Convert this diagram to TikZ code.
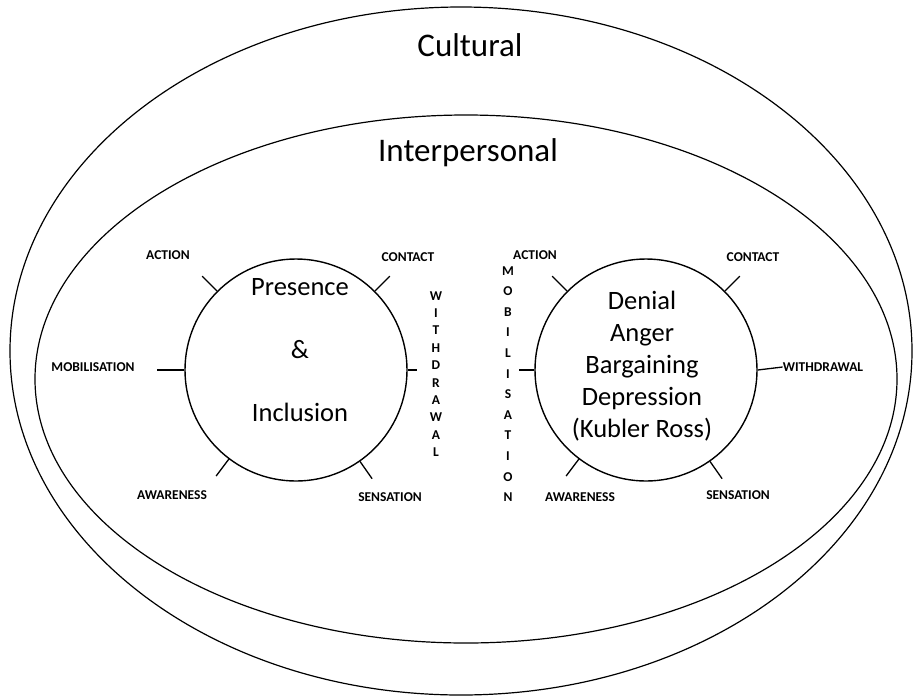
\documentclass[tikz,border=0pt]{standalone}
\usepackage{fontspec}
\setmainfont{Carlito}
\usetikzlibrary{shapes.geometric}
\begin{document}
\begin{tikzpicture}[x=1pt,y=-1pt,
  ring/.style={draw,line width=1.2pt,ellipse,inner sep=0pt},
  wheel/.style={draw,line width=1.4pt,circle,inner sep=0pt,minimum size=222pt},
  tick/.style={line width=1.3pt},
  small/.style={font=\fontsize{13.5}{13.5}\selectfont\bfseries,inner sep=0pt},
  vert/.style={font=\fontsize{13.5}{#1}\selectfont\bfseries,align=center,inner sep=0pt},
  big/.style={font=\fontsize{26.5}{32}\selectfont,align=center,inner sep=0pt},
  huge/.style={font=\fontsize{33}{33}\selectfont,inner sep=0pt}]
\useasboundingbox (0,0) rectangle (913,697);
% rings
\node[ring,minimum width=902pt,minimum height=688pt] (outer) at (461,351) {};
\node[ring,minimum width=862pt,minimum height=528pt] (inner) at (466,379) {};
\node[huge] (cult) at (470,45) {Cultural};
\node[huge] (inter) at (468,153) {Interpersonal};
% left wheel
\node[wheel] (L) at (296,370) {};
\node[big] (pres) at (300,287) {Presence};
\node[big] (amp) at (300,350) {\&};
\node[big] (incl) at (300,412) {Inclusion};
\node[small] (actL) at (168,255) {ACTION};
\node[small] (conL) at (408,257) {CONTACT};
\node[small] (mobL) at (93,367) {MOBILISATION};
\node[small] (awaL) at (172,495) {AWARENESS};
\node[small] (senL) at (390,497) {SENSATION};
\node[vert=17.4] (wdL) at (436,374) {W\\I\\T\\H\\D\\R\\A\\W\\A\\L};
\draw[tick] (L.135) -- ([shift={(135:21pt)}]L.135);
\draw[tick] (L.45) -- ([shift={(45:21pt)}]L.45);
\draw[tick] (L.233) -- ([shift={(233:21pt)}]L.233);
\draw[tick] (L.305) -- ([shift={(305:21pt)}]L.305);
\draw[tick] (L.west) -- ([shift={(180:27pt)}]L.west);
\draw[tick] (L.east) -- ([shift={(0:9pt)}]L.east);
% right wheel
\node[wheel] (R) at (646,370) {};
\node[big] (stages) at (642,366) {Denial\\Anger\\Bargaining\\Depression\\(Kubler Ross)};
\node[small] (actR) at (535,255) {ACTION};
\node[small] (conR) at (753,257) {CONTACT};
\node[small] (wdR) at (823,367) {WITHDRAWAL};
\node[small] (awaR) at (580,497) {AWARENESS};
\node[small] (senR) at (738,495) {SENSATION};
\node[vert=20.6] (mobR) at (508,384) {M\\O\\B\\I\\L\\I\\S\\A\\T\\I\\O\\N};
\draw[tick] (R.135) -- ([shift={(135:21pt)}]R.135);
\draw[tick] (R.45) -- ([shift={(45:21pt)}]R.45);
\draw[tick] (R.233) -- ([shift={(233:21pt)}]R.233);
\draw[tick] (R.305) -- ([shift={(305:21pt)}]R.305);
\draw[tick] (R.west) -- ([shift={(180:15pt)}]R.west);
\draw[tick] (R.east) -- (wdR.west);
\end{tikzpicture}
\end{document}
